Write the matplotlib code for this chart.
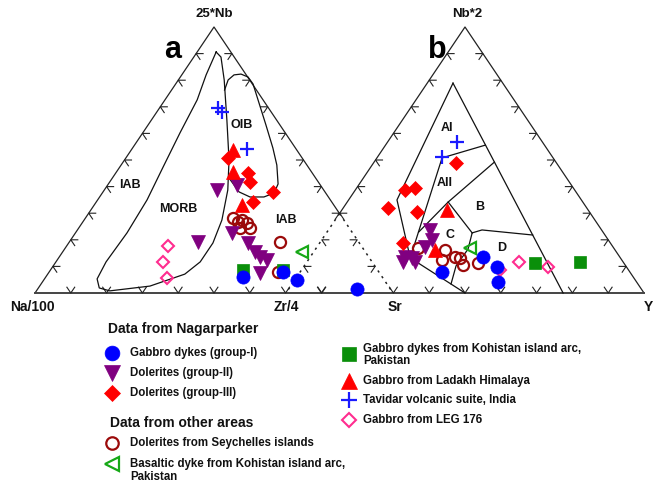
import matplotlib
matplotlib.use("Agg")
import matplotlib.pyplot as plt
import numpy as np

plt.rcParams['font.family'] = ['Liberation Sans', 'DejaVu Sans']

# ------------------------------------------------------------------
# Data  (ternary percentages)
# Panel a: 25*Nb (top) and Zr/4 (right); Na/100 = remainder
# ------------------------------------------------------------------
a_gab1_nb = [6.0, 7.9, 4.9, 1.5]
a_gab1_zr = [55.1, 65.3, 70.7, 89.2]
a_dol2_nb = [38.7, 40.6, 19.2, 22.6, 18.8, 15.4, 13.5, 12.4, 7.5]
a_dol2_zr = [31.4, 36.1, 35.9, 43.7, 50.1, 53.8, 56.1, 58.6, 59.1]
a_dol3_nb = [50.8, 45.1, 41.7, 34.2, 38.0]
a_dol3_zr = [28.5, 36.9, 39.2, 43.8, 47.5]
a_sey_nb = [28.2, 27.4, 26.3, 24.4, 24.4, 26.7, 19.2, 7.9]
a_sey_zr = [41.2, 44.1, 46.1, 45.0, 47.9, 43.4, 58.8, 63.9]
a_bas_nb = [15.4]
a_bas_zr = [66.9]
a_koh_nb = [8.6, 8.6]
a_koh_zr = [53.8, 65.0]
a_lad_nb = [53.8, 45.5, 33.1]
a_lad_zr = [28.4, 32.6, 41.3]
a_tav_nb = [69.5, 68.0, 54.1]
a_tav_zr = [16.4, 18.2, 32.2]
a_leg_nb = [17.7, 11.7, 5.6]
a_leg_zr = [28.3, 29.9, 34.0]

# Panel b: Nb*2 (top) and Y (right); Sr = remainder
b_gab1_nb = [13.5, 9.8, 4.1, 7.9]
b_gab1_y = [48.2, 54.0, 57.1, 39.7]
b_dol2_nb = [23.7, 19.9, 17.3, 13.5, 13.2, 11.7, 11.7]
b_dol2_y = [28.4, 30.8, 30.2, 26.4, 28.6, 26.9, 30.2]
b_dol3_nb = [48.9, 38.7, 39.5, 32.0, 30.5, 18.8]
b_dol3_y = [23.1, 13.9, 16.3, 12.5, 21.4, 23.3]
b_sey_nb = [16.9, 16.2, 13.5, 13.2, 10.5, 11.3, 12.4]
b_sey_y = [28.4, 36.3, 40.4, 42.0, 44.1, 48.0, 37.4]
b_bas_nb = [16.9]
b_bas_y = [42.9]
b_koh_nb = [11.3, 11.7]
b_koh_y = [64.0, 76.3]
b_lad_nb = [31.2, 16.2]
b_lad_y = [29.4, 33.5]
b_tav_nb = [56.8, 51.1]
b_tav_y = [19.4, 18.0]
b_leg_nb = [11.7, 9.8, 8.6]
b_leg_y = [59.3, 68.3, 55.5]

# Field boundaries (top %, right %)
a_morb_top = [90.6, 82.0, 72.6, 60.2, 47.4, 35.0, 22.6, 11.7, 5.3, 1.9, 0.8, 2.6, 7.1, 11.7,
              18.8, 27.4, 38.7, 50.0, 65.0, 80.1, 88.7, 90.6]
a_morb_right = [5.3, 6.8, 9.0, 10.4, 12.1, 13.8, 14.4, 14.0, 14.7, 17.0, 20.5, 30.8, 38.3, 40.3,
                40.3, 38.5, 34.5, 29.2, 21.1, 12.8, 7.6, 5.3]
a_oib_top = [76.3, 80.1, 82.0, 82.3, 81.2, 78.6, 72.6, 63.2, 54.5, 48.1, 41.0, 37.6, 36.1, 36.1,
             38.0, 43.2]
a_oib_right = [14.8, 13.9, 14.6, 16.4, 18.9, 21.6, 26.0, 32.9, 39.2, 43.5, 47.4, 48.0, 45.9, 42.0,
               38.0, 32.6]

b_outer_l_top = [78.9, 35.0, 13.2, 0.0]
b_outer_l_right = [7.2, 13.5, 28.1, 50.0]
b_outer_r_top = [78.9, 0.0]
b_outer_r_right = [7.2, 77.4]
b_inner_top = [50.8, 13.2]
b_inner_right = [18.2, 28.1]
b_ai_aii_top = [50.8, 55.6]
b_ai_aii_right = [18.2, 27.9]
b_aii_top = [49.2, 34.2, 22.9]
b_aii_right = [33.6, 28.2, 25.6]
b_bc_top = [34.2, 22.6]
b_bc_right = [28.2, 40.7]
b_bd_top = [22.6, 23.7, 21.8]
b_bd_right = [40.7, 42.9, 58.0]
b_cd_top = [22.6, 16.5, 10.2, 3.4]
b_cd_right = [40.7, 42.6, 42.4, 44.4]

# ------------------------------------------------------------------
fig = plt.figure(figsize=(6.57, 4.83), dpi=100)
ax = fig.add_axes([0, 0, 1, 1])
ax.set_xlim(0, 657)
ax.set_ylim(483, 0)
ax.axis('off')

BASE_Y = 293.0
W = 358.0
H = 266.0
AX0 = 35.0
BX0 = 286.0


def tern(top, right, x0):
    top = np.asarray(top, float) / 100.0
    right = np.asarray(right, float) / 100.0
    return x0 + W * (right + top / 2.0), BASE_Y - H * top


LC = '#222222'
LW = 0.9


def triangle(x0):
    L = np.array([x0, BASE_Y])
    R = np.array([x0 + W, BASE_Y])
    T = np.array([x0 + W / 2, BASE_Y - H])
    return L, R, T


La, Ra, Ta = triangle(AX0)
Lb, Rb, Tb = triangle(BX0)


def intersect(p1, p2, p3, p4):
    d1 = p2 - p1
    d2 = p4 - p3
    A = np.array([d1, -d2]).T
    s, _ = np.linalg.solve(A, p3 - p1)
    return p1 + s * d1


X = intersect(Ta, Ra, Tb, Lb)

# sides
ax.plot([La[0], Ta[0], X[0]], [La[1], Ta[1], X[1]], color=LC, lw=LW)
ax.plot([X[0], Ra[0]], [X[1], Ra[1]], color=LC, lw=1.1, ls=(0, (1.5, 3)))
ax.plot([X[0], Tb[0], Rb[0]], [X[1], Tb[1], Rb[1]], color=LC, lw=LW)
ax.plot([X[0], Lb[0]], [X[1], Lb[1]], color=LC, lw=1.1, ls=(0, (1.5, 3)))
ax.plot([La[0], Rb[0]], [BASE_Y, BASE_Y], color='#444444', lw=1.4)


def unit(v):
    return v / np.hypot(*v)


def chevrons(L, R, T, s=7.0):
    for k in range(1, 10):
        f = k / 10.0
        for p, d1, d2 in [
            (L + f * (R - L), unit(T - L), unit(T - R)),
            (L + f * (T - L), unit(R - L), unit(R - T)),
            (R + f * (T - R), unit(L - R), unit(L - T)),
        ]:
            a1 = p + s * d1
            a2 = p + s * d2
            ax.plot([a1[0], p[0], a2[0]], [a1[1], p[1], a2[1]], color=LC, lw=0.8)


chevrons(La, Ra, Ta)
chevrons(Lb, Rb, Tb)

# fields
FC = '#111111'
x, y = tern(a_morb_top, a_morb_right, AX0)
ax.plot(x, y, color=FC, lw=0.9)
x, y = tern(a_oib_top, a_oib_right, AX0)
ax.plot(x, y, color=FC, lw=0.9)
for tt, rr in [(b_outer_l_top, b_outer_l_right), (b_outer_r_top, b_outer_r_right),
               (b_inner_top, b_inner_right), (b_ai_aii_top, b_ai_aii_right),
               (b_aii_top, b_aii_right), (b_bc_top, b_bc_right),
               (b_bd_top, b_bd_right), (b_cd_top, b_cd_right)]:
    x, y = tern(tt, rr, BX0)
    ax.plot(x, y, color=FC, lw=0.9)

# ------------------------------------------------------------------
styles = {
    'sey': dict(marker='o', ms=8, mfc='none', mec='#9b0a0a', mew=1.6),
    'leg': dict(marker='D', ms=6.5, mfc='none', mec='#ff2d8f', mew=1.5),
    'koh': dict(marker='s', ms=9, mfc='#0a8f0a', mec='#0a8f0a', mew=0.5),
    'bas': dict(marker='<', ms=9, mfc='none', mec='#16a816', mew=1.6),
    'dol2': dict(marker='v', ms=10, mfc='#800080', mec='#800080', mew=0.5),
    'lad': dict(marker='^', ms=10, mfc='#ff0000', mec='#ff0000', mew=0.5),
    'dol3': dict(marker='D', ms=7.5, mfc='#ff0000', mec='#ff0000', mew=0.5),
    'gab1': dict(marker='o', ms=9.5, mfc='#0000ff', mec='#0000ff', mew=0.5),
    'tav': dict(marker='+', ms=10, mfc='#1a1aff', mec='#1a1aff', mew=1.6),
}

a_series = [('sey', a_sey_nb, a_sey_zr), ('leg', a_leg_nb, a_leg_zr),
            ('koh', a_koh_nb, a_koh_zr), ('bas', a_bas_nb, a_bas_zr),
            ('dol2', a_dol2_nb, a_dol2_zr), ('lad', a_lad_nb, a_lad_zr),
            ('dol3', a_dol3_nb, a_dol3_zr), ('gab1', a_gab1_nb, a_gab1_zr),
            ('tav', a_tav_nb, a_tav_zr)]
b_series = [('sey', b_sey_nb, b_sey_y), ('leg', b_leg_nb, b_leg_y),
            ('koh', b_koh_nb, b_koh_y), ('bas', b_bas_nb, b_bas_y),
            ('dol2', b_dol2_nb, b_dol2_y), ('lad', b_lad_nb, b_lad_y),
            ('dol3', b_dol3_nb, b_dol3_y), ('gab1', b_gab1_nb, b_gab1_y),
            ('tav', b_tav_nb, b_tav_y)]

for key, tt, rr in a_series:
    x, y = tern(tt, rr, AX0)
    ax.plot(x, y, ls='none', **styles[key])
for key, tt, rr in b_series:
    x, y = tern(tt, rr, BX0)
    ax.plot(x, y, ls='none', **styles[key])

# ------------------------------------------------------------------
# text
bold = dict(fontweight='bold', color='#111111')
ax.text(214, 14, '25*Nb', ha='center', va='center', fontsize=9.5, **bold)
ax.text(467, 14, 'Nb*2', ha='center', va='center', fontsize=9.5, **bold)
ax.text(32, 307, 'Na/100', ha='center', va='center', fontsize=10, **bold)
ax.text(286, 307, 'Zr/4', ha='center', va='center', fontsize=10, **bold)
ax.text(395, 307, 'Sr', ha='center', va='center', fontsize=10, **bold)
ax.text(648, 307, 'Y', ha='center', va='center', fontsize=10, **bold)
ax.text(173, 50, 'a', ha='center', va='center', fontsize=22, fontweight='bold', color='black')
ax.text(437, 50, 'b', ha='center', va='center', fontsize=22, fontweight='bold', color='black')

for s, (px, py) in [('IAB', (130, 185)), ('MORB', (178, 209)), ('OIB', (242, 125)),
                    ('IAB', (286, 220)), ('AI', (447, 128)), ('AII', (445, 183)),
                    ('B', (480, 207)), ('C', (450, 235)), ('D', (502, 248))]:
    ax.text(px, py, s, ha='center', va='center', fontsize=9, **bold)

# legend
LF = 8.3
ax.text(108, 329, 'Data from Nagarparker', ha='left', va='center', fontsize=10, **bold)
ax.text(110, 423, 'Data from other areas', ha='left', va='center', fontsize=10, **bold)
left_items = [('gab1', 353, ['Gabbro dykes (group-I)']),
              ('dol2', 373, ['Dolerites (group-II)']),
              ('dol3', 393, ['Dolerites (group-III)']),
              ('sey', 443, ['Dolerites from Seychelles islands']),
              ('bas', 464, ['Basaltic dyke from Kohistan island arc,', 'Pakistan'])]
right_items = [('koh', 354, ['Gabbro dykes from Kohistan island arc,', 'Pakistan']),
               ('lad', 381, ['Gabbro from Ladakh Himalaya']),
               ('tav', 400, ['Tavidar volcanic suite, India']),
               ('leg', 420, ['Gabbro from LEG 176'])]


def legend_col(items, mx, tx, first_offset):
    for key, yy, lines in items:
        st = dict(styles[key])
        st['ms'] = st['ms'] * 1.12
        ax.plot([mx], [yy], ls='none', **st)
        if len(lines) == 1:
            ax.text(tx, yy, lines[0], ha='left', va='center', fontsize=LF, **bold)
        else:
            y0 = yy + first_offset
            for i, ln in enumerate(lines):
                ax.text(tx, y0 + 12.5 * i, ln, ha='left', va='center', fontsize=LF, **bold)


legend_col(left_items, 112, 130, 0)
legend_col(right_items, 349, 363, -5)

fig.savefig('out.png', dpi=100)
